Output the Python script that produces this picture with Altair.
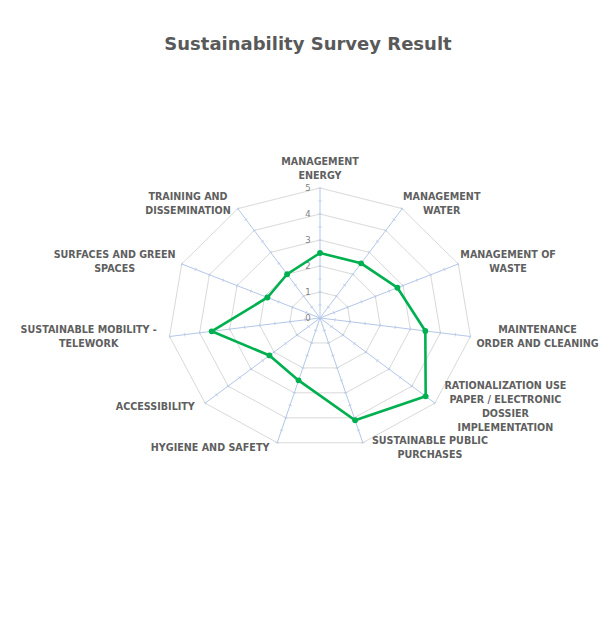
import altair as alt
import pandas as pd

# ---------------- data ----------------
title_text = "Sustainability Survey Result"
categories = [
    "MANAGEMENT\nENERGY",
    "MANAGEMENT\nWATER",
    "MANAGEMENT OF\nWASTE",
    "MAINTENANCE\nORDER AND CLEANING",
    "RATIONALIZATION USE\nPAPER / ELECTRONIC\nDOSSIER\nIMPLEMENTATION",
    "SUSTAINABLE PUBLIC\nPURCHASES",
    "HYGIENE AND SAFETY",
    "ACCESSIBILITY",
    "SUSTAINABLE MOBILITY -\nTELEWORK",
    "SURFACES AND GREEN\nSPACES",
    "TRAINING AND\nDISSEMINATION",
]
values = [2.5, 2.5, 2.8, 3.5, 4.6, 4.1, 2.5, 2.2, 3.6, 1.9, 2.0]
scale_levels = [0, 1, 2, 3, 4, 5]
minor_step = 0.5

# ---------------- layout ----------------
N = len(categories)
RMAX = max(scale_levels)
PX_X = 30.4   # pixels per unit, horizontal (reference is stretched sideways)
PX_Y = 26.0   # pixels per unit, vertical
LH = 14       # label line height
CHAR_W = 6.9  # approx label character width
W, H = 600, 566
CX, CY = 312, 254
x_dom = [-CX / PX_X, (W - CX) / PX_X]
y_dom = [-(H - CY) / PX_Y, CY / PX_Y]

ANG = f"datum.idx * 2 * PI / {N}"


def X(field="x"):
    return alt.X(f"{field}:Q", scale=alt.Scale(domain=x_dom, nice=False, zero=False), axis=None)


def Y(field="y"):
    return alt.Y(f"{field}:Q", scale=alt.Scale(domain=y_dom, nice=False, zero=False), axis=None)


# series (closed polygon)
series = pd.DataFrame({
    "idx": list(range(N)) + [N],
    "value": values + [values[0]],
    "category": categories + [categories[0]],
})

# rings
rings = pd.DataFrame([
    {"level": lv, "idx": i} for lv in scale_levels if lv > 0 for i in range(N + 1)
])

# spokes
spokes = pd.DataFrame({"idx": list(range(N))})

# small tick marks along spokes
nminor = int(round(RMAX / minor_step))
ticks = pd.DataFrame([
    {"idx": i, "r": minor_step * k} for i in range(N) for k in range(1, nminor + 1)
])

# category labels
labels = pd.DataFrame({
    "idx": list(range(N)),
    "label": categories,
    "maxlen": [max(len(s) for s in c.split("\n")) for c in categories],
    "nlines": [len(c.split("\n")) for c in categories],
})

levels = pd.DataFrame({"level": scale_levels})

ring_layer = alt.Chart(rings).transform_calculate(
    x=f"datum.level * sin({ANG})", y=f"datum.level * cos({ANG})"
).mark_line(color="#d9d9d9", strokeWidth=1).encode(
    x=X(), y=Y(), detail="level:N", order="idx:Q"
)

spoke_layer = alt.Chart(spokes).transform_calculate(
    x=f"{RMAX} * sin({ANG})", y=f"{RMAX} * cos({ANG})", x0="0", y0="0"
).mark_rule(color="#b4c7e7", strokeWidth=1).encode(
    x=X("x0"), y=Y("y0"), x2="x:Q", y2="y:Q"
)

tick_layer = alt.Chart(ticks).transform_calculate(
    x=f"datum.r * sin({ANG})", y=f"datum.r * cos({ANG})", deg=f"datum.idx * 360 / {N}"
).mark_point(shape="stroke", color="#b4c7e7", size=12, strokeWidth=1).encode(
    x=X(), y=Y(), angle=alt.Angle("deg:Q", scale=None)
)

level_layer = alt.Chart(levels).transform_calculate(
    x="0", y="datum.level"
).mark_text(font="DejaVu Sans", fontSize=8.5, color="#7f7f7f", dx=-12, align="center", baseline="middle").encode(
    x=X(), y=Y(), text="level:Q"
)

line_layer = alt.Chart(series).transform_calculate(
    x=f"datum.value * sin({ANG})", y=f"datum.value * cos({ANG})"
).mark_line(color="#00b050", strokeWidth=2.6).encode(
    x=X(), y=Y(), order="idx:Q"
)

point_layer = alt.Chart(series).transform_filter(f"datum.idx < {N}").transform_calculate(
    x=f"datum.value * sin({ANG})", y=f"datum.value * cos({ANG})"
).mark_circle(color="#00b050", size=34, opacity=1).encode(
    x=X(), y=Y(), tooltip=["category:N", "value:Q"]
)

label_layer = alt.Chart(labels).transform_calculate(
    s=f"sin({ANG})", c=f"cos({ANG})"
).transform_calculate(
    side="abs(datum.s) < 0.1 ? 0 : (datum.s > 0 ? 1 : -1)"
).transform_calculate(
    x=f"{RMAX} * datum.s + datum.side * (5 + datum.maxlen * {CHAR_W / 2}) / {PX_X}",
    y=(f"{RMAX} * datum.c + (datum.side == 0 ? 19.5 / {PX_Y} : 6 * datum.c / {PX_Y})"
       f" + (datum.nlines - 1) * {LH / 2} / {PX_Y}"),
).mark_text(
    font="DejaVu Sans", fontSize=9.6, fontWeight="bold", color="#5f5f5f",
    align="center", baseline="middle", lineBreak="\n", lineHeight=LH
).encode(x=X(), y=Y(), text="label:N")

chart = alt.layer(
    ring_layer, spoke_layer, tick_layer, level_layer, line_layer, point_layer, label_layer
).properties(
    width=W, height=H,
    padding={"left": 0, "top": 28, "right": 0, "bottom": 0},
    title=alt.TitleParams(title_text, font="DejaVu Sans", fontSize=18, fontWeight="bold",
                          color="#595959", anchor="middle", offset=10),
).configure(
    background="white",
    view=alt.ViewConfig(stroke="transparent", strokeWidth=0),
)

chart.save("out.html", embed_options={"renderer": "svg", "actions": False})
